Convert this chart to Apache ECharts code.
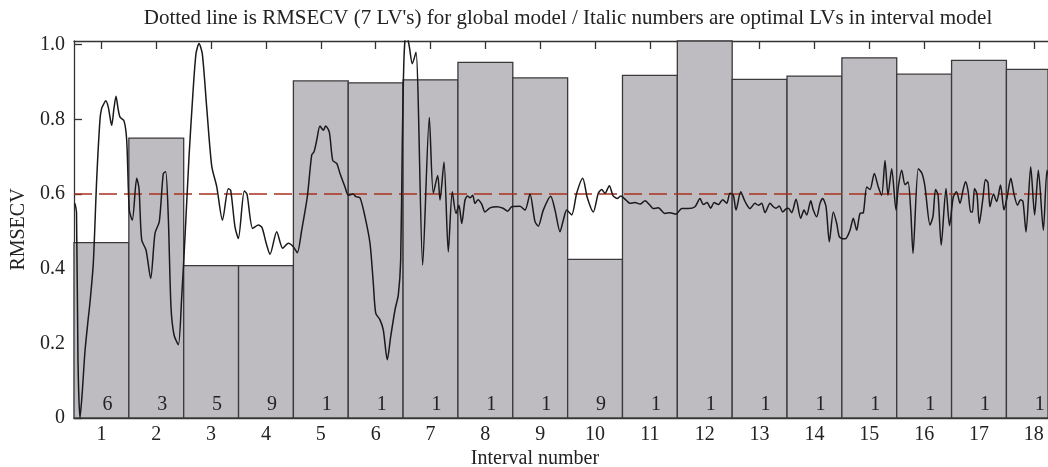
<!DOCTYPE html>
<html>
<head>
<meta charset="utf-8">
<script src="https://cdn.jsdelivr.net/npm/echarts@6/dist/echarts.min.js"></script>
<style>
  html, body { margin: 0; padding: 0; background: #fff; }
  #chart { width: 1048px; height: 467px; }
</style>
</head>
<body>
<div id="chart"></div>
<script>
const intervals = [1, 2, 3, 4, 5, 6, 7, 8, 9, 10, 11, 12, 13, 14, 15, 16, 17, 18];
const intervalRmsecv = [0.470, 0.750, 0.408, 0.408, 0.903, 0.898, 0.906, 0.953, 0.911, 0.425,
  0.918, 1.050, 0.907, 0.916, 0.965, 0.921, 0.958, 0.934];
const optimalLVs = [6, 3, 5, 9, 1, 1, 1, 1, 1, 9, 1, 1, 1, 1, 1, 1, 1, 1];
const globalRmsecv = 0.6;
const yTicks = [0, 0.2, 0.4, 0.6, 0.8, 1.0];
// the picture is cut at the right, part way into interval 18
const xMin = 0.5;
const xMax = 18.258;

// RMSECV curve of the variable-wise model, x in interval units
const curveX = [0.518, 0.546, 0.573, 0.609, 0.646, 0.701, 0.755, 0.792, 0.852, 0.914, 0.974, 1.005, 1.038, 1.078,
  1.125, 1.187, 1.229, 1.266, 1.302, 1.339, 1.412, 1.461, 1.508, 1.563, 1.643, 1.685, 1.734, 1.813, 1.898, 1.977,
  2.055, 2.128, 2.172, 2.219, 2.268, 2.323, 2.402, 2.464, 2.524, 2.597, 2.664, 2.724, 2.779, 2.839, 2.919, 3.011,
  3.102, 3.207, 3.313, 3.357, 3.435, 3.496, 3.605, 3.654, 3.758, 3.860, 3.928, 4.001, 4.074, 4.196, 4.305, 4.407,
  4.498, 4.571, 4.651, 4.754, 4.834, 4.876, 4.925, 4.985, 5.045, 5.089, 5.155, 5.217, 5.290, 5.350, 5.441, 5.501,
  5.587, 5.641, 5.714, 5.806, 5.897, 5.957, 6.001, 6.079, 6.139, 6.212, 6.274, 6.353, 6.413, 6.456, 6.486, 6.517,
  6.553, 6.608, 6.668, 6.735, 6.857, 6.978, 7.051, 7.131, 7.173, 7.246, 7.324, 7.397, 7.465, 7.519, 7.569, 7.629,
  7.674, 7.720, 7.769, 7.811, 7.866, 7.933, 7.993, 8.085, 8.207, 8.322, 8.407, 8.480, 8.631, 8.723, 8.814, 8.905,
  8.965, 9.056, 9.191, 9.270, 9.361, 9.421, 9.483, 9.574, 9.665, 9.775, 9.859, 9.968, 10.059, 10.121, 10.181,
  10.260, 10.327, 10.405, 10.467, 10.577, 10.637, 10.728, 10.820, 10.911, 11.002, 11.062, 11.153, 11.275, 11.367,
  11.476, 11.580, 11.700, 11.822, 11.913, 11.974, 12.041, 12.108, 12.169, 12.247, 12.327, 12.400, 12.460, 12.521,
  12.570, 12.656, 12.734, 12.825, 12.916, 12.976, 13.038, 13.099, 13.190, 13.250, 13.299, 13.359, 13.421, 13.481,
  13.523, 13.585, 13.664, 13.749, 13.810, 13.859, 13.932, 13.979, 14.041, 14.101, 14.150, 14.211, 14.271, 14.344,
  14.406, 14.453, 14.526, 14.575, 14.648, 14.708, 14.770, 14.830, 14.891, 14.953, 15.013, 15.091, 15.164, 15.226,
  15.286, 15.341, 15.408, 15.487, 15.529, 15.591, 15.651, 15.706, 15.755, 15.797, 15.893, 15.961, 16.015, 16.107,
  16.161, 16.207, 16.253, 16.311, 16.398, 16.462, 16.531, 16.590, 16.654, 16.708, 16.754, 16.799, 16.849, 16.881,
  16.918, 16.963, 17.005, 17.073, 17.118, 17.164, 17.200, 17.264, 17.322, 17.392, 17.456, 17.511, 17.580, 17.638,
  17.702, 17.757, 17.802, 17.857, 17.943, 18.014, 18.082, 18.173, 18.240, 18.331];
const curveY = [0.575, 0.55, 0.15, 0.0, 0.06, 0.18, 0.26, 0.31, 0.415, 0.64, 0.80, 0.83, 0.84, 0.85,
  0.833, 0.784, 0.83, 0.862, 0.83, 0.806, 0.796, 0.744, 0.557, 0.53, 0.642, 0.615, 0.477, 0.45, 0.374, 0.495,
  0.526, 0.655, 0.66, 0.539, 0.298, 0.223, 0.196, 0.325, 0.486, 0.70, 0.86, 0.976, 1.003, 0.976, 0.833, 0.675,
  0.62, 0.53, 0.614, 0.61, 0.512, 0.481, 0.608, 0.6, 0.508, 0.517, 0.51, 0.47, 0.439, 0.499, 0.455, 0.468,
  0.459, 0.443, 0.503, 0.593, 0.705, 0.713, 0.744, 0.782, 0.771, 0.782, 0.766, 0.69, 0.682, 0.655, 0.619, 0.597,
  0.60, 0.593, 0.59, 0.539, 0.468, 0.361, 0.281, 0.263, 0.236, 0.156, 0.218, 0.29, 0.33, 0.423, 0.744, 0.967,
  1.03, 1.0, 0.949, 0.98, 0.41, 0.805, 0.602, 0.65, 0.584, 0.686, 0.445, 0.606, 0.548, 0.57, 0.521, 0.584,
  0.595, 0.59, 0.597, 0.575, 0.585, 0.573, 0.552, 0.563, 0.566, 0.562, 0.554, 0.566, 0.567, 0.557, 0.600, 0.526,
  0.514, 0.557, 0.594, 0.557, 0.499, 0.53, 0.557, 0.544, 0.602, 0.642, 0.59, 0.552, 0.602, 0.612, 0.602,
  0.622, 0.596, 0.588, 0.595, 0.582, 0.575, 0.577, 0.573, 0.582, 0.570, 0.561, 0.563, 0.548, 0.55,
  0.546, 0.561, 0.561, 0.566, 0.588, 0.572, 0.577, 0.562, 0.577, 0.572, 0.585, 0.575, 0.602, 0.597,
  0.557, 0.606, 0.58, 0.561, 0.575, 0.57, 0.575, 0.55, 0.575, 0.566, 0.562, 0.568, 0.552, 0.56,
  0.562, 0.55, 0.586, 0.535, 0.557, 0.544, 0.582, 0.557, 0.539, 0.575, 0.588, 0.566, 0.472, 0.552,
  0.521, 0.486, 0.48, 0.481, 0.503, 0.535, 0.503, 0.548, 0.55, 0.619, 0.612, 0.655, 0.619, 0.597,
  0.69, 0.597, 0.668, 0.557, 0.619, 0.664, 0.625, 0.632, 0.557, 0.441, 0.668, 0.655, 0.62, 0.517,
  0.54, 0.612, 0.598, 0.463, 0.615, 0.515, 0.592, 0.606, 0.575, 0.61, 0.633, 0.61, 0.552, 0.552,
  0.615, 0.6, 0.521, 0.59, 0.639, 0.63, 0.566, 0.6, 0.58, 0.624, 0.557, 0.59, 0.642, 0.6,
  0.57, 0.585, 0.58, 0.498, 0.673, 0.544, 0.664, 0.503, 0.664, 0.56];

const FONT = '"Liberation Serif", "Times New Roman", serif';
const TEXT = '#222';
const AXIS = '#333';

const chart = echarts.init(document.getElementById('chart'), null, { renderer: 'canvas' });

const renderInterval = (params, api) => {
  const i = api.value(0);
  const top = api.coord([i - 0.5, api.value(1)]);
  const bottom = api.coord([i + 0.5, 0]);
  const rect = echarts.graphic.clipRectByRect(
    { x: top[0], y: top[1], width: bottom[0] - top[0], height: bottom[1] - top[1] },
    params.coordSys
  );
  const base = api.coord([i, 0]);

  return {
    type: 'group',
    children: [
      {
        type: 'rect',
        shape: rect,
        style: { fill: '#bebcc0', stroke: '#3a3a3a', lineWidth: 1.3 },
      },
      {
        type: 'text',
        x: base[0] + 1,
        y: base[1] - 13,
        style: {
          text: String(api.value(2)),
          fill: TEXT,
          font: `20px ${FONT}`,
          align: 'left',
          verticalAlign: 'middle',
        },
      },
    ],
  };
};

const option = {
  animation: false,
  title: [
    {
      text: "Dotted line is RMSECV (7 LV's) for global model / Italic numbers are optimal LVs in interval model",
      left: 563,
      top: 3,
      textAlign: 'center',
      textStyle: { fontFamily: FONT, fontSize: 21, fontWeight: 'normal', color: TEXT },
    },
    {
      text: 'Interval number',
      left: 530,
      top: 444,
      textAlign: 'center',
      textStyle: { fontFamily: FONT, fontSize: 20, fontWeight: 'normal', color: TEXT },
    },
  ],
  grid: { left: 74, top: 41, right: 0, height: 377, containLabel: false, outerBoundsMode: 'none' },
  xAxis: [
    {
      type: 'value',
      position: 'bottom',
      min: xMin,
      max: xMax,
      splitLine: { show: false },
      axisLine: { show: true, onZero: false, lineStyle: { color: AXIS, width: 1.3 } },
      axisTick: { show: false },
      axisLabel: {
        customValues: intervals,
        margin: 7,
        fontFamily: FONT,
        fontSize: 20,
        color: TEXT,
      },
    },
    {
      type: 'value',
      position: 'top',
      min: xMin,
      max: xMax,
      splitLine: { show: false },
      axisLine: { show: true, onZero: false, lineStyle: { color: AXIS, width: 1.3 } },
      axisTick: { show: true, inside: true, length: 8, customValues: intervals, lineStyle: { color: AXIS, width: 1.3 } },
      axisLabel: { show: false },
    },
  ],
  yAxis: {
    type: 'value',
    min: 0,
    max: 1.01,
    name: 'RMSECV',
    nameLocation: 'middle',
    nameRotate: 90,
    nameGap: 42,
    nameTextStyle: { fontFamily: FONT, fontSize: 20, color: TEXT },
    splitLine: { show: false },
    axisLine: { show: true, onZero: false, lineStyle: { color: AXIS, width: 1.3 } },
    axisTick: { show: true, inside: true, length: 8, customValues: yTicks, lineStyle: { color: AXIS, width: 1.3 } },
    axisLabel: {
      customValues: yTicks,
      margin: 9,
      fontFamily: FONT,
      fontSize: 20,
      color: TEXT,
      formatter: (v) => (v === 0 ? '0' : v.toFixed(1)),
    },
  },
  series: [
    {
      type: 'custom',
      name: 'interval model',
      xAxisIndex: 0,
      renderItem: renderInterval,
      encode: { x: 0, y: 1 },
      data: intervals.map((d, i) => [d, intervalRmsecv[i], optimalLVs[i]]),
      z: 1,
    },
    {
      type: 'line',
      name: 'variables',
      xAxisIndex: 0,
      data: curveX.map((x, i) => [x, curveY[i]]),
      showSymbol: false,
      smooth: 0.25,
      clip: true,
      lineStyle: { color: '#1a1a1a', width: 1.5 },
      z: 3,
    },
    {
      type: 'line',
      name: 'global model',
      xAxisIndex: 0,
      data: [[xMin, globalRmsecv], [xMax, globalRmsecv]],
      showSymbol: false,
      lineStyle: { color: '#a8321f', width: 1.4, type: [18, 7] },
      z: 2,
    },
  ],
};

chart.setOption(option);
</script>
</body>
</html>
